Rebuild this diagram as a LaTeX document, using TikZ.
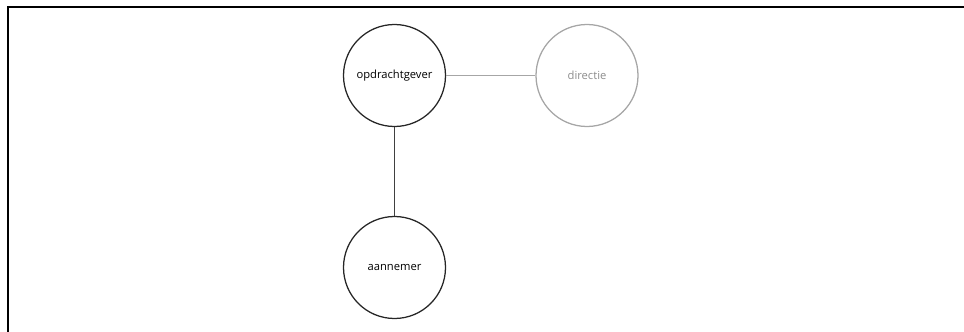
\documentclass[tikz,border=0pt]{standalone}
\usepackage{fontspec}
\setmainfont{Open Sans}
\begin{document}
\begin{tikzpicture}[x=0.75pt, y=-0.75pt,
		partij/.style={circle, draw=black!85, line width=0.95pt, minimum size=76.5pt, inner sep=0pt, font=\fontsize{8.4}{10}\selectfont},
		bijpartij/.style={partij, draw=black!35, text=black!45}]
		\useasboundingbox (0, 0) rectangle (964, 332);
		% Kader
		\draw[line width=1.6pt] (8, 332) -- (8, 7) -- (964, 7);
		% Partijen
		\node[partij] (opdrachtgever) at (394.5, 75.5) {opdrachtgever};
		\node[partij] (aannemer) at (394.5, 267.5) {aannemer};
		\node[bijpartij] (directie) at (587, 75.5) {directie};
		% Lijnen
		\draw[line width=0.9pt, black!75] (opdrachtgever) -- (aannemer);
		\draw[line width=0.9pt, black!35] (opdrachtgever) -- (directie);
\end{tikzpicture}
\end{document}
